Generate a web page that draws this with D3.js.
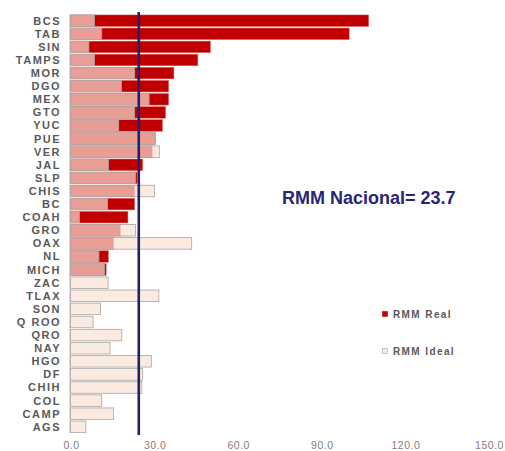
<!DOCTYPE html>
<html><head><meta charset="utf-8">
<script src="https://cdn.jsdelivr.net/npm/d3@7"></script>
<style>body{margin:0;background:#fff}svg{display:block}</style>
</head><body>
<script>
const categories = ["BCS","TAB","SIN","TAMPS","MOR","DGO","MEX","GTO","YUC","PUE","VER","JAL","SLP","CHIS","BC","COAH","GRO","OAX","NL","MICH","ZAC","TLAX","SON","Q ROO","QRO","NAY","HGO","DF","CHIH","COL","CAMP","AGS"];
const rmmReal  = [107,100,50.2,45.7,37.1,35.2,35.2,34.1,33.0,30.4,29.3,25.9,23.9,23.0,23.0,20.6,17.9,15.5,13.6,12.8,0,0,0,0,0,0,0,0,0,0,0,0];
const rmmIdeal = [8.6,11.2,6.6,8.6,23.0,18.3,28.2,23.0,17.3,30.4,31.9,13.6,23.3,30.1,13.3,3.2,23.3,43.5,10.2,12.2,13.5,31.7,10.8,8.1,18.4,14.2,29.0,25.9,25.6,11.2,15.5,5.5];
const xTicks = [0,30,60,90,120,150];
const nacional = 23.7;          // value shown in the annotation
const nacionalLinePos = 24.5;   // where the reference line is drawn
const seriesNames = ["RMM Real","RMM Ideal"];

const W=505,H=451;
const font="Liberation Sans, Arial, sans-serif";
const svg=d3.select("body").append("svg").attr("width",W).attr("height",H);
const x=d3.scaleLinear().domain([0,150]).range([70.5,488.5]);
const y=d3.scaleBand().domain(categories).range([14.15,433.35]).paddingInner(0.12).paddingOuter(0.06);

// y axis line
svg.append("line").attr("x1",x(0)-1).attr("x2",x(0)-1).attr("y1",y.range()[0]).attr("y2",y.range()[1])
  .attr("stroke","#d9d9d9").attr("stroke-width",1);

const g=svg.append("g");
g.selectAll("rect.real").data(categories).join("rect").attr("class","real")
  .attr("x",x(0)).attr("y",d=>y(d)).attr("height",y.bandwidth())
  .attr("width",(d,i)=>Math.max(0,x(rmmReal[i])-x(0)))
  .attr("fill","#c00000").attr("stroke","#e06060").attr("stroke-width",0.5);
g.selectAll("rect.ideal").data(categories).join("rect").attr("class","ideal")
  .attr("x",x(0)).attr("y",d=>y(d)).attr("height",y.bandwidth())
  .attr("width",(d,i)=>Math.max(0,x(rmmIdeal[i])-x(0)))
  .attr("fill","rgb(249,225,211)").attr("fill-opacity",0.7)
  .attr("stroke","#a6a6a6").attr("stroke-width",0.8);

// category labels
svg.append("g").selectAll("text").data(categories).join("text")
  .attr("x",61).attr("y",d=>y(d)+y.bandwidth()/2).attr("dy","0.36em")
  .attr("text-anchor","end").attr("font-family",font)
  .attr("font-weight","bold").attr("font-size",11).attr("letter-spacing","1.5")
  .attr("fill","#595959").text(d=>d);

// x tick labels
svg.append("g").selectAll("text").data(xTicks).join("text")
  .attr("x",d=>x(d)+1).attr("y",449).attr("text-anchor","middle")
  .attr("font-family",font).attr("font-size",10.5).attr("letter-spacing","0.5")
  .attr("fill","#7f7f7f").text(d=>d3.format(".1f")(d));

// nacional line
svg.append("line").attr("x1",x(nacionalLinePos)).attr("x2",x(nacionalLinePos)).attr("y1",12).attr("y2",435)
  .attr("stroke","#1f1f6b").attr("stroke-width",2.6);

svg.append("text").attr("x",282).attr("y",204)
  .attr("font-family",font).attr("font-weight","bold")
  .attr("font-size",18).attr("fill","#262672").text("RMM Nacional= "+nacional);

// legend
const leg=[{c:"#c00000",s:"#c00000",y:314},{c:"#f5e6de",s:"#a6a6a6",y:351}];
leg.forEach((l,i)=>{
  svg.append("rect").attr("x",382.5).attr("y",l.y-2.5).attr("width",5).attr("height",5)
    .attr("fill",l.c).attr("stroke",l.s).attr("stroke-width",0.6);
  svg.append("text").attr("x",393).attr("y",l.y).attr("dy","0.36em")
    .attr("font-family",font).attr("font-weight","bold").attr("letter-spacing","1.4")
    .attr("font-size",10).attr("fill","#595959").text(seriesNames[i]);
});
</script>
</body></html>
